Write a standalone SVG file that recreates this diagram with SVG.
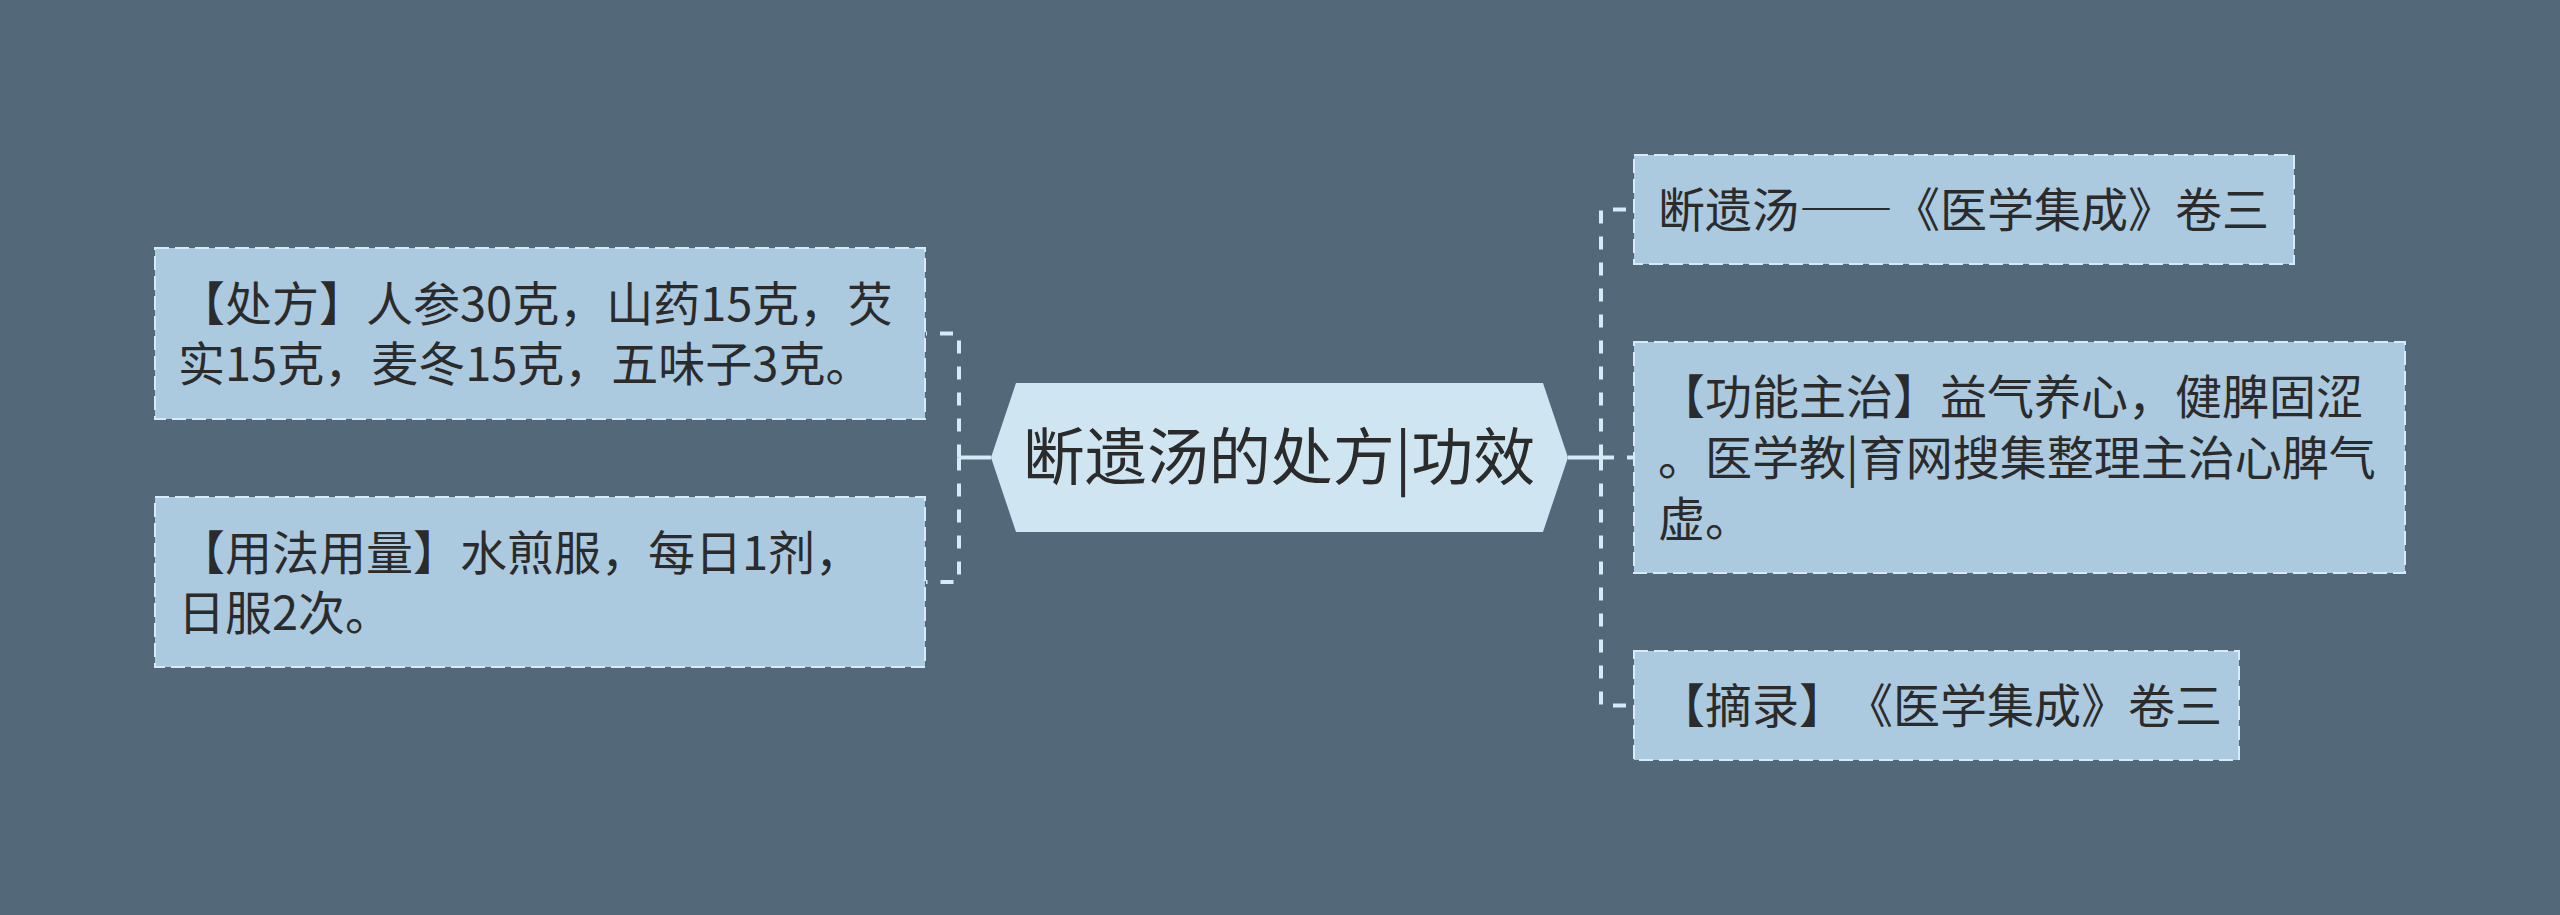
<svg xmlns="http://www.w3.org/2000/svg" width="2560" height="915" viewBox="0 0 2560 915">
<style>
.bg{fill:#536878}
.box{fill:#abc9df;stroke:#d5ebf7;stroke-width:2;stroke-dasharray:14 6}
.center{fill:#cfe5f1}
.solid{stroke:#d5ebf7;stroke-width:4;fill:none}
.dash{stroke:#d5ebf7;stroke-width:4;fill:none;stroke-dasharray:13 13}
text{font-family:"Noto Sans CJK SC","Noto Sans",sans-serif;fill:#2b2b2b;text-spacing-trim:space-all}
.t{font-size:47px}
.tc{font-size:62px;text-anchor:middle}
.fw{font-feature-settings:"fwid" 1}
</style>
<rect class="bg" x="0" y="0" width="2560" height="915"/>
<g id="connectors">
<path class="solid" d="M991 457.5 H959"/>
<path class="dash" d="M959 457.5 V333.5 H926"/>
<path class="dash" d="M959 457.5 V582 H926"/>
<path class="solid" d="M1568 457.5 H1601"/>
<path class="dash" d="M1601 457.5 V209.5 H1634"/>
<path class="dash" d="M1601 457.5 H1634"/>
<path class="dash" d="M1601 457.5 V705.5 H1634"/>
</g>
<g id="center">
<polygon class="center" points="991,457.5 1016,383 1543,383 1568,457.5 1543,532 1016,532"/>
<text class="tc" x="1279" y="480">断遗汤的处方|功效</text>
</g>
<g id="left1">
<rect class="box" x="155" y="248" width="770" height="171"/>
<text class="t"><tspan x="178" y="321">【处方】人参30克，山药15克，芡</tspan><tspan x="178" y="381">实15克，麦冬15克，五味子3克。</tspan></text>
</g>
<g id="left2">
<rect class="box" x="155" y="497" width="770" height="170"/>
<text class="t"><tspan x="178" y="570">【用法用量】水煎服，每日1剂，</tspan><tspan x="178" y="630">日服2次。</tspan></text>
</g>
<g id="right1">
<rect class="box" x="1634" y="155" width="660" height="109"/>
<text class="t" x="1658" y="227">断遗汤<tspan class="fw">——</tspan>《医学集成》卷三</text>
</g>
<g id="right2">
<rect class="box" x="1634" y="342" width="771" height="231"/>
<text class="t"><tspan x="1658" y="414">【功能主治】益气养心，健脾固涩</tspan><tspan x="1658" y="475">。医学教|育网搜集整理主治心脾气</tspan><tspan x="1658" y="536">虚。</tspan></text>
</g>
<g id="right3">
<rect class="box" x="1634" y="651" width="605" height="109"/>
<text class="t" x="1658" y="723">【摘录】《医学集成》卷三</text>
</g>
</svg>
